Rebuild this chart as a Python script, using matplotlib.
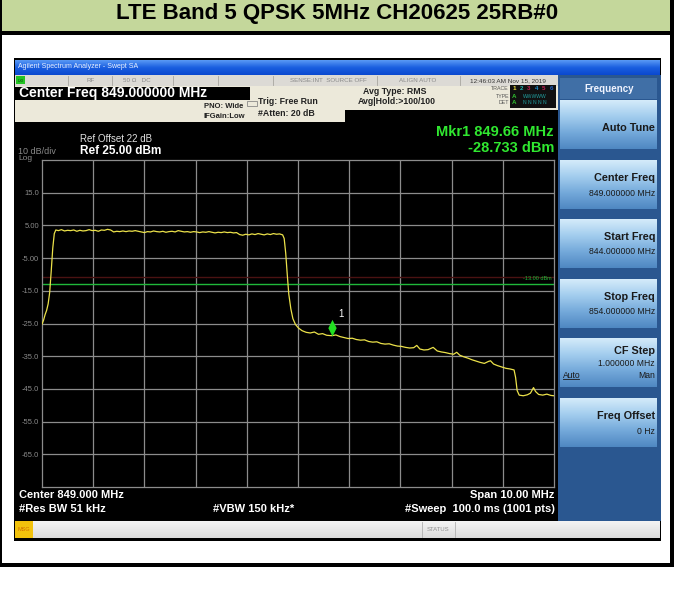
import numpy as np
import matplotlib.pyplot as plt
from matplotlib.patches import Rectangle
from matplotlib.path import Path
from matplotlib.colors import to_rgb

plt.rcParams['font.family'] = ['Liberation Sans', 'DejaVu Sans']

W, H = 675, 589

# -----------------------------
# measured trace, MHz / dBm
# -----------------------------
freq_mhz = [
    844.00, 844.03, 844.06, 844.09, 844.12, 844.15, 844.18, 844.21, 844.24, 844.27,
    844.32, 844.38, 844.44, 844.50, 844.56, 844.62, 844.68, 844.74, 844.80, 844.86,
    844.92, 844.98, 845.04, 845.10, 845.16, 845.22, 845.28, 845.34, 845.40, 845.46,
    845.52, 845.58, 845.64, 845.70, 845.76, 845.82, 845.88, 845.94, 846.00, 846.06,
    846.12, 846.18, 846.24, 846.30, 846.36, 846.42, 846.48, 846.54, 846.60, 846.66,
    846.72, 846.78, 846.84, 846.90, 846.96, 847.02, 847.08, 847.14, 847.20, 847.26,
    847.32, 847.38, 847.44, 847.50, 847.56, 847.62, 847.68, 847.74, 847.80, 847.86,
    847.92, 847.98, 848.04, 848.10, 848.16, 848.22, 848.28, 848.34, 848.40, 848.46,
    848.52, 848.58, 848.64, 848.70, 848.73, 848.76, 848.79, 848.82, 848.86, 848.90,
    848.95, 849.01, 849.08, 849.16, 849.24, 849.32, 849.40, 849.48, 849.56, 849.66,
    849.74, 849.82, 849.90, 849.98, 850.06, 850.14, 850.22, 850.30, 850.38, 850.46,
    850.54, 850.62, 850.70, 850.78, 850.86, 850.94, 851.02, 851.10, 851.18, 851.26,
    851.32, 851.38, 851.46, 851.54, 851.64, 851.72, 851.80, 851.88, 851.96, 852.04,
    852.10, 852.16, 852.24, 852.32, 852.40, 852.48, 852.56, 852.64, 852.72, 852.76,
    852.82, 852.90, 852.98, 853.06, 853.14, 853.22, 853.25, 853.28, 853.32, 853.40,
    853.48, 853.54, 853.60, 853.64, 853.70, 853.78, 853.86, 853.94, 854.00,
]
level_dbm = [
    -25.2, -24.0, -22.3, -21.0, -19.0, -15.5, -9.0, -2.0, 2.5, 3.6,
    3.4, 3.7, 3.3, 3.5, 3.4, 3.6, 3.2, 3.5, 3.3, 3.4,
    3.7, 3.4, 3.5, 3.2, 3.6, 3.5, 3.8, 3.6, 3.0, 3.2,
    3.1, 3.3, 3.1, 3.3, 3.2, 3.4, 3.2, 3.0, 2.8, 3.1,
    3.0, 3.3, 3.1, 3.0, 3.2, 2.9, 3.1, 3.2, 3.0, 3.4,
    3.2, 3.0, 3.1, 2.9, 3.1, 3.0, 2.8, 3.0, 2.9, 3.1,
    2.9, 2.7, 2.9, 2.8, 3.0, 2.8, 2.9, 2.7, 2.8, 2.2,
    2.0, 2.3, 2.1, 2.4, 2.2, 2.5, 2.3, 2.1, 2.4, 2.2,
    2.5, 2.3, 2.4, 2.1, 1.0, -3.5, -10.0, -16.0, -20.5, -23.5,
    -25.3, -26.4, -27.2, -27.7, -27.9, -27.6, -28.3, -28.1, -28.6, -28.733,
    -28.5, -29.0, -29.3, -29.6, -29.5, -29.9, -30.1, -30.0, -30.5, -30.7,
    -30.6, -31.1, -31.3, -31.2, -31.6, -31.9, -32.0, -32.3, -32.5, -32.4,
    -31.7, -32.8, -33.1, -33.0, -32.3, -33.4, -33.7, -33.9, -34.2, -34.4,
    -33.8, -34.7, -35.2, -35.6, -36.1, -36.5, -36.9, -37.2, -36.6, -36.4,
    -37.4, -37.9, -38.3, -38.7, -38.9, -39.2, -41.5, -45.5, -46.9, -47.1,
    -46.8, -46.3, -44.6, -45.8, -46.7, -46.9, -46.6, -47.0, -47.1,
]

start_mhz, stop_mhz = 844.0, 854.0
ref_dbm, db_per_div = 25.0, 10.0
limit_dbm = -13.0
display_dbm = -10.8
marker_mhz, marker_dbm = 849.66, -28.733
level_labels = ["15.0", "5.00", "-5.00", "-15.0", "-25.0", "-35.0", "-45.0", "-55.0", "-65.0"]

softkeys = [
    ("Auto Tune", []),
    ("Center Freq", ["849.000000 MHz"]),
    ("Start Freq", ["844.000000 MHz"]),
    ("Stop Freq", ["854.000000 MHz"]),
    ("CF Step", ["1.000000 MHz"]),
    ("Freq Offset", ["0 Hz"]),
]
softkey_top = [100, 160, 219, 279, 338, 398]

fig = plt.figure(figsize=(W / 100, H / 100), dpi=100)
fig.patch.set_facecolor('white')
bg = fig.add_axes([0, 0, 1, 1])
bg.axis('off')


def box(x0, y0, x1, y1, color, z=1, **kw):
    bg.add_patch(Rectangle((x0, y0), x1 - x0, y1 - y0, facecolor=color,
                           edgecolor=kw.pop('ec', 'none'), zorder=z, **kw))


def grad(x0, y0, x1, y1, stops, z=2):
    # vertical colour ramp through the given stops
    pos = np.linspace(0, 1, len(stops))
    t = np.linspace(0, 1, 80)
    cols = np.array([to_rgb(c) for c in stops])
    img = np.stack([np.interp(t, pos, cols[:, k]) for k in range(3)], axis=-1)[:, None, :]
    bg.imshow(img, extent=(x0, x1, y1, y0), aspect='auto', interpolation='bilinear', zorder=z)


def txt(x, y, s, size, color='white', ha='left', bold=False, z=5, **kw):
    bg.text(x, y, s, fontsize=size, color=color, ha=ha, va='center',
            fontweight='bold' if bold else 'normal', zorder=z, **kw)


# page frame and heading
box(0, 0, 671, 31, '#c4d79b')
box(0, 31, 674, 35, 'black')
box(0, 0, 2, 567, 'black')
box(670, 0, 674, 567, 'black')
box(0, 563, 674, 567, 'black')
txt(337, 13.5, "LTE Band 5 QPSK 5MHz CH20625 25RB#0", 16, color='black', ha='center', bold=True)

# analyzer window
box(14, 58, 661, 541, 'black')
grad(15, 60, 660, 75, ['#5a9af5', '#1a5fe0', '#0a48cf'])
txt(18, 67, "Agilent Spectrum Analyzer - Swept SA", 5, color='#e8f0ff')

# status row
box(15, 75, 558, 86, '#dcdad5', z=2)
for xs in [68, 112, 173, 218, 273, 377, 460]:
    bg.plot([xs, xs], [76, 85], color='#a8a6a0', lw=0.6, zorder=3)
box(16, 76, 25, 84, '#24c424', z=3)
txt(20.5, 80.5, "LXI", 3, color='#0a4a0a', ha='center')
txt(91, 80.5, "RF", 4.5, color='#8a8a8a', ha='center')
txt(123, 80.5, "50 \u03a9   DC", 4.5, color='#8a8a8a')
txt(290, 80.5, "SENSE:INT  SOURCE OFF", 4.5, color='#8a8a8a')
txt(418, 80.5, "ALIGN AUTO", 4.5, color='#8a8a8a', ha='center')
txt(508, 80.5, "12:46:03 AM Nov 15, 2019", 4.6, color='#333333', ha='center')

# settings panel
box(15, 86, 558, 110, '#ece9da', z=2)
box(15, 110, 345, 122, '#ece9da', z=2)
box(15, 87, 250, 100, 'black', z=3)
txt(19, 93.5, "Center Freq 849.000000 MHz", 10, bold=True)
txt(243, 106, "PNO: Wide", 5.5, color='#222222', ha='right', bold=True)
txt(245, 116, "IFGain:Low", 5.5, color='#222222', ha='right', bold=True)
bg.add_patch(Rectangle((247, 101), 10, 5, facecolor='none', edgecolor='#777777', lw=0.5, zorder=3))
txt(258, 102, "Trig: Free Run", 6.3, color='#222222', bold=True)
txt(258, 113, "#Atten: 20 dB", 6.3, color='#222222', bold=True)
txt(395, 91, "Avg Type: RMS", 6.3, color='#222222', ha='center', bold=True)
txt(397, 102, "Avg|Hold:>100/100", 6.3, color='#222222', ha='center', bold=True)
txt(509, 89, "TRACE", 3.8, color='#555555', ha='right')
txt(509, 96, "TYPE", 3.8, color='#555555', ha='right')
txt(509, 103, "DET", 3.8, color='#555555', ha='right')
box(510, 85, 556, 108, '#101010', z=3)
for i, c in enumerate(['#f0e040', '#20b0b0', '#c02050', '#2090d0', '#c02050', '#2060c0']):
    txt(514 + i * 7.5, 89, str(i + 1), 4.5, color=c, ha='center', bold=True)
txt(514, 96, "A", 4.5, color='#30c030', ha='center', bold=True)
txt(535, 96, "WWWWW", 3.6, color='#20a0a0', ha='center')
txt(514, 103, "A", 4.5, color='#30c030', ha='center', bold=True)
txt(535, 103, "N N N N N", 3.6, color='#20a0a0', ha='center')

# reference / marker readout
txt(80, 139, "Ref Offset 22 dB", 7, color='#e0e0e0')
txt(80, 151, "Ref 25.00 dBm", 8.5, bold=True)
txt(18, 151, "10 dB/div", 6.5, color='#8a8a8a')
txt(18, 159, "Log", 6, color='#8a8a8a')
txt(554, 132, "Mkr1 849.66 MHz", 10.5, color='#30e830', ha='right', bold=True)
txt(554, 148, "-28.733 dBm", 10.5, color='#30e830', ha='right', bold=True)

# bottom annotation
txt(19, 495, "Center 849.000 MHz", 8, bold=True)
txt(19, 509, "#Res BW 51 kHz", 8, bold=True)
txt(213, 509, "#VBW 150 kHz*", 8, bold=True)
txt(554, 495, "Span 10.00 MHz", 8, ha='right', bold=True)
txt(555, 509, "#Sweep  100.0 ms (1001 pts)", 8, ha='right', bold=True)

# message / status bar
grad(15, 521, 660, 538, ['#f4f4f4', '#dcdcdc'])
box(15, 521, 33, 538, '#f2c20c', z=3)
txt(24, 529.5, "MSG", 4, color='#d07000', ha='center')
for xs in [422, 455]:
    bg.plot([xs, xs], [522, 537], color='#b0b0b0', lw=0.6, zorder=3)
txt(438, 529.5, "STATUS", 4.3, color='#909090', ha='center')

# softkey panel
box(558, 75, 661, 521, '#2a5790', z=2)
box(560, 78, 657, 99, '#406fa6', z=3)
txt(609, 88.5, "Frequency", 7, color='#f0f4ff', ha='center', bold=True)
for (label, lines), top in zip(softkeys, softkey_top):
    grad(560, top, 657, top + 49, ['#d4ebfa', '#a3cdee', '#74a9da', '#4f88c2'], z=3)
    if not lines:
        txt(655, top + 28, label, 7.8, color='#1a1a1a', ha='right', bold=True)
    elif label == "CF Step":
        txt(655, top + 13, label, 7.8, color='#1a1a1a', ha='right', bold=True)
        txt(655, top + 25, lines[0], 6.2, color='#1a1a1a', ha='right')
        txt(655, top + 37, "Man", 6.2, color='#1a1a1a', ha='right')
        txt(563, top + 37, "Auto", 6.2, color='#1a1a1a')
        bg.plot([563, 579], [top + 41, top + 41], color='#1a1a1a', lw=0.6, zorder=5)
    else:
        txt(655, top + 18, label, 7.8, color='#1a1a1a', ha='right', bold=True)
        txt(655, top + 33, lines[0], 6.2, color='#1a1a1a', ha='right')

bg.set_xlim(0, W)
bg.set_ylim(H, 0)

# -----------------------------
# trace graticule
# -----------------------------
ax = fig.add_axes([42 / W, 1 - 487 / H, 512 / W, 327 / H])
ax.set_facecolor('black')
ax.set_xlim(start_mhz, stop_mhz)
ax.set_ylim(ref_dbm - 10 * db_per_div, ref_dbm)
ax.set_xticks(np.arange(start_mhz + 1, stop_mhz))
ax.set_yticks([ref_dbm - db_per_div * (i + 1) for i in range(len(level_labels))])
ax.set_yticklabels(level_labels)
ax.tick_params(length=0, labelbottom=False, labelcolor='#8a8a8a', labelsize=5.5, pad=2)
ax.grid(True, color='#8c8c8c', lw=0.9)
for s in ax.spines.values():
    s.set_color('#8c8c8c')
    s.set_linewidth(0.9)

ax.axhline(display_dbm, color='#4a1212', lw=1, zorder=2)
ax.axhline(limit_dbm, color='#1fb83a', lw=1, zorder=2)
ax.text(stop_mhz - 0.05, limit_dbm + 0.9, "-13.00 dBm", fontsize=4, color='#1fb83a',
        ha='right', va='bottom')
ax.plot(freq_mhz, level_dbm, color='#ece24a', lw=0.9, zorder=3)

# marker: tall diamond sitting on the trace
diamond = Path([(0, 0), (0.5, 1), (0, 2), (-0.5, 1), (0, 0)],
               [Path.MOVETO, Path.LINETO, Path.LINETO, Path.LINETO, Path.CLOSEPOLY])
ax.plot([marker_mhz], [marker_dbm], marker=diamond, markersize=24, color='#22e022',
        markeredgewidth=0, zorder=4)
ax.annotate("1", (marker_mhz, marker_dbm), xytext=(5, 12), textcoords='offset points',
            fontsize=7, color='white', va='bottom')

fig.savefig('out.png', dpi=100, facecolor='white')
